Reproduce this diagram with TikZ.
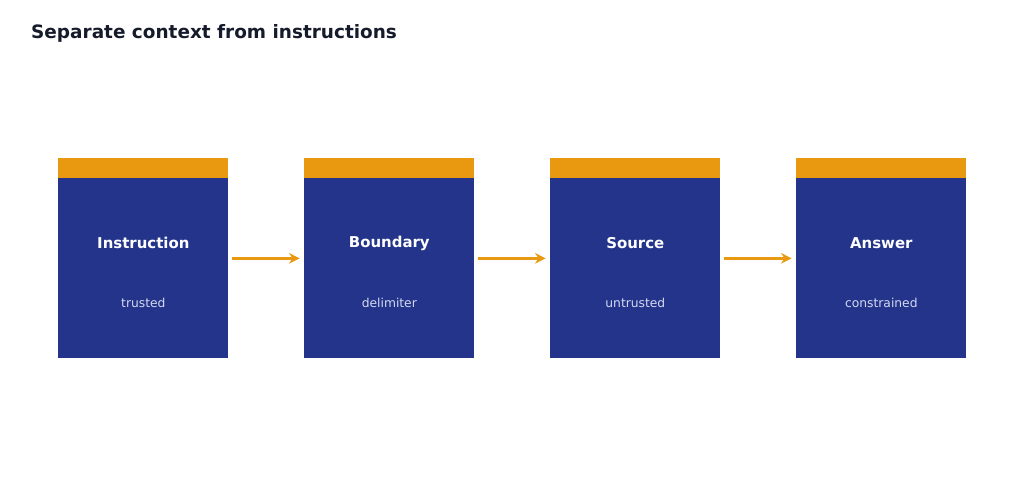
\documentclass[tikz,border=0pt]{standalone}
\usepackage{fontspec}
\setmainfont{DejaVu Sans}
\usetikzlibrary{positioning,arrows.meta,calc}
\definecolor{boxblue}{HTML}{23348A}
\definecolor{bandorange}{HTML}{E8990F}
\definecolor{subtext}{HTML}{D4DAF2}
\definecolor{headtext}{HTML}{161B2C}

\begin{document}
\begin{tikzpicture}[x=0.02cm,y=-0.02cm]
  \tikzset{stage/.style={fill=boxblue,minimum width=3.4cm,minimum height=3.6cm,inner sep=0pt,anchor=north west},
           band/.style={fill=bandorange,minimum width=3.4cm,minimum height=0.4cm,inner sep=0pt,anchor=south},
           stagename/.style={text=white,font=\fontsize{8.5}{10}\selectfont\bfseries},
           stagenote/.style={text=subtext,font=\fontsize{7}{8}\selectfont},
           flow/.style={draw=bandorange,line width=1.4pt,-{Stealth[length=6pt,width=6pt]},shorten <=2pt,shorten >=2.5pt}}
  \useasboundingbox (0,0) rectangle (1024,483);
  \node[anchor=west,text=headtext,font=\fontsize{10.5}{12}\selectfont\bfseries] (title) at (25,33) {Separate context from instructions};
  % stages
  \foreach \i/\x/\name/\note in {1/58/Instruction/trusted,2/304/Boundary/delimiter,3/550/Source/untrusted,4/796/Answer/constrained}{
    \node[stage] (box\i) at (\x,178) {};
    \node[band] (band\i) at (box\i.north) {};
    \node[stagename] (name\i) at ($(box\i.north)+(0,65)$) {\name};
    \node[stagenote] (note\i) at ($(box\i.north)+(0,125)$) {\note};
    \coordinate (in\i) at ($(box\i.west)+(0,-10)$);
    \coordinate (out\i) at ($(box\i.east)+(0,-10)$);
  }
  \foreach \a/\b in {1/2,2/3,3/4}
    \draw[flow] (out\a) -- (in\b);
\end{tikzpicture}
\end{document}
